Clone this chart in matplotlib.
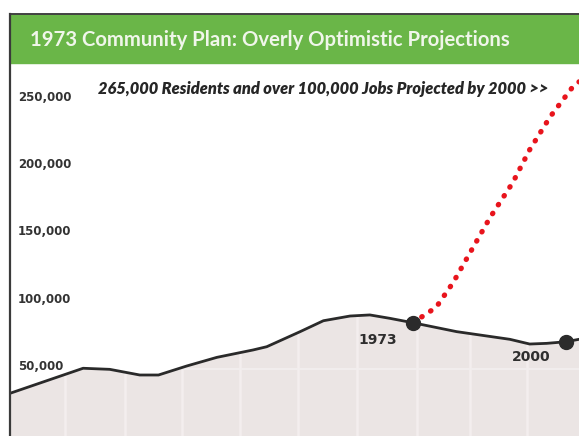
import matplotlib.pyplot as plt
from matplotlib.patches import Rectangle
from matplotlib.lines import Line2D

# population history (year, residents)
years = [1901.9, 1914.8, 1919.5, 1924.8, 1928.1, 1933.1, 1938.4, 1944.8, 1947.2,
         1953.1, 1957.2, 1961.9, 1965.4, 1968.9, 1973.0, 1980.7, 1990.1, 1993.6,
         1996.6, 2000.0, 2002.3]
population = [31700, 50300, 49500, 45300, 45300, 52000, 58400, 63900, 66300,
              77500, 85600, 89100, 89900, 87400, 84100, 77500, 71800, 68300,
              68800, 70000, 71800]

# 1973 plan projection
proj_years = [1973.0, 1977.1, 1980.1, 1983.1, 1986.6, 1990.6, 1993.6, 1997.2, 2001.2, 2002.3]
proj_values = [84100, 95600, 114000, 136300, 162200, 188100, 212600, 237000, 259300, 263000]

marker_years = [1973.0, 2000.0]
marker_values = [84100, 70000]

yticks = [50000, 100000, 150000, 200000, 250000]
ytick_labels = ['50,000', '100,000', '150,000', '200,000', '250,000']
grid_years = [1911.6, 1922.2, 1932.2, 1942.5, 1952.7, 1963.1, 1973.7, 1983.0, 1993.1]

title = '1973 Community Plan: Overly Optimistic Projections'
note = '265,000 Residents and over 100,000 Jobs Projected by 2000 >>'

W, H = 579, 436
fig = plt.figure(figsize=(W / 100, H / 100), dpi=100)
fig.patch.set_facecolor('white')

ax = fig.add_axes([10 / W, 0, 569 / W, 373 / H])
ax.set_xlim(1901.9, 2002.3)
ax.set_ylim(0, 277000)
for s in ['top', 'right', 'bottom', 'left']:
    ax.spines[s].set_visible(False)
ax.set_xticks([])
ax.set_yticks([])

area = ax.fill_between(years, population, 0, color='#ebe5e4', lw=0, zorder=1)
clip = area.get_paths()[0]
for yr in grid_years:
    l = ax.axvline(yr, color='#f3eeee', lw=1.8, zorder=1.5)
    l.set_clip_path(clip, ax.transData)
for v in yticks[:-1]:
    l = ax.axhline(v, color='#f2eeee', lw=1.4, zorder=1.6)
    l.set_clip_path(clip, ax.transData)

ax.plot(years, population, color='#2a2a2a', lw=2.0, zorder=3)
ax.plot(proj_years, proj_values, color='#e8141c', lw=3.8,
        linestyle=(0, (0.1, 1.9)), dash_capstyle='round', zorder=4)
ax.plot(marker_years, marker_values, 'o', color='#2b2b2b', ms=10, zorder=5)

for v, lab in zip(yticks, ytick_labels):
    ax.text(1903.3, v + 1500, lab, ha='left', va='center', fontsize=8.5,
            fontweight='bold', color='#333333', zorder=6)

ax.text(1966.8, 71300, '1973', ha='center', va='center', fontsize=10,
        fontweight='bold', color='#2e2e2e', zorder=6)
ax.text(1993.8, 58700, '2000', ha='center', va='center', fontsize=10,
        fontweight='bold', color='#2e2e2e', zorder=6)

fig.text(323 / W, 1 - 89 / H, note, ha='center', va='center', fontsize=11.8,
         fontweight='heavy', style='italic', family='Lato', color='#262626')

# green title bar
fig.add_artist(Rectangle((10 / W, 1 - 63 / H), 569 / W, 48 / H,
                         transform=fig.transFigure, color='#6ab648', zorder=2))
fig.text(30 / W, 1 - 40 / H, title, ha='left', va='center', fontsize=14.6,
         fontweight='bold', family='Lato', color='#f0f6ea', zorder=3)
fig.add_artist(Line2D([10 / W, 1], [1 - 14 / H, 1 - 14 / H],
                      transform=fig.transFigure, color='#222222', lw=1.2))
fig.add_artist(Line2D([10 / W, 10 / W], [0, 1 - 14 / H],
                      transform=fig.transFigure, color='#3a3a3a', lw=1.6))

fig.savefig('out.png', dpi=100)
